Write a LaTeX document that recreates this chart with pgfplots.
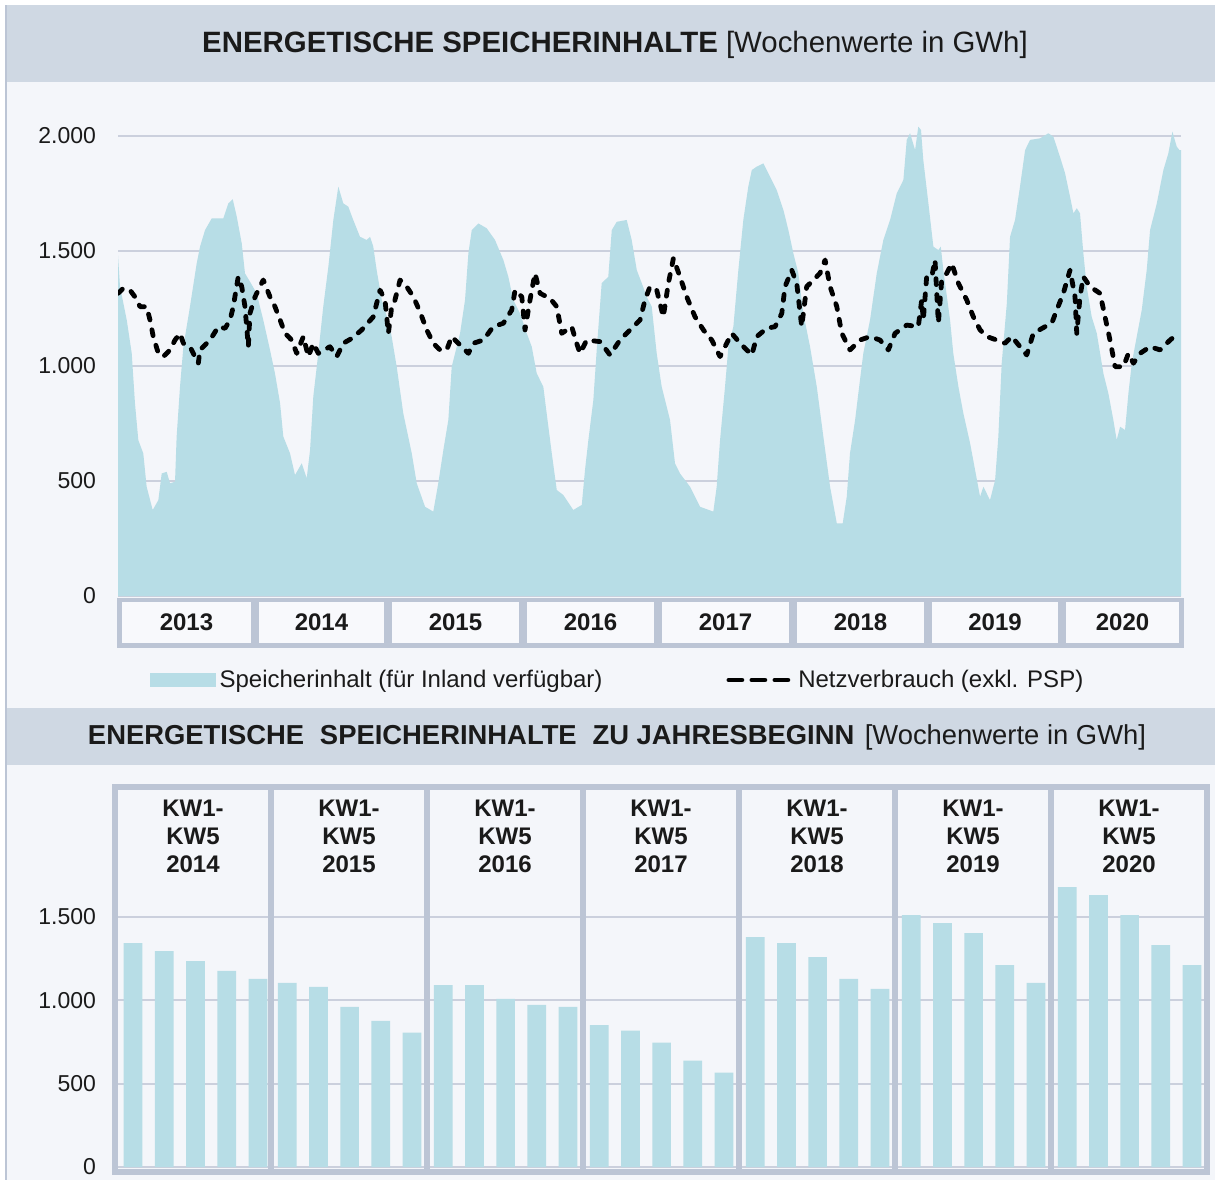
\documentclass[border=0pt]{standalone}
\usepackage{pgfplots}
\pgfplotsset{compat=1.18}
\usepackage{fontspec}
\setmainfont{Liberation Sans}
\definecolor{areablue}{HTML}{B7DDE6}
\definecolor{bgc}{HTML}{F4F6FA}
\definecolor{bandc}{HTML}{CFD8E3}
\definecolor{gridc}{HTML}{CBD0DD}
\definecolor{framec}{HTML}{BCC5D5}
\definecolor{boxin}{HTML}{F8F9FC}
\definecolor{txt}{HTML}{1A1A1A}
\begin{document}
\begin{tikzpicture}[x=0.5pt,y=-0.5pt]
\useasboundingbox (0,0) rectangle (1215,1180);
\fill[white] (0,0) rectangle (1215,1180);
\fill[bgc] (6,5) rectangle (1215,1180);
\fill[bandc] (6,5) rectangle (1215,82);
\fill[bandc] (6,708) rectangle (1215,765);
\draw[framec, line width=0.8pt] (6,5) -- (6,1180);
\node[font=\fontsize{14.7}{16}\selectfont, text=txt] at (615,45) {\textbf{ENERGETISCHE SPEICHERINHALTE} [Wochenwerte in GWh]};
\node[font=\fontsize{13.7}{15}\selectfont, text=txt] at (617,737) {\textbf{ENERGETISCHE\hspace{0.3em} SPEICHERINHALTE\hspace{0.3em} ZU JAHRESBEGINN} \hspace{0.1em}[Wochenwerte in GWh]};

% ---------------- top panel ----------------
\begin{axis}[
  at={(59pt,-298pt)}, anchor=south west,
  scale only axis, width=531.5pt, height=241.5pt,
  xmin=2013, xmax=2020.903, ymin=0, ymax=2100,
  axis line style={draw=none}, xtick=\empty,
  ytick={0,500,1000,1500,2000},
  major tick length=0pt,
  ymajorgrids, grid style={gridc, line width=1pt},
  yticklabel style={font=\fontsize{11.5}{13}\selectfont, text=txt, xshift=-7.5pt},
  /pgf/number format/1000 sep={.},
  /pgf/number format/assume math mode=true,
  legend style={at={(0.4708,-0.1739)}, anchor=center, draw=none, fill=none,
    font=\fontsize{12}{14}\selectfont, text=txt, legend columns=2,
    /tikz/every even column/.append style={column sep=60pt}},
  legend cell align=left,
]
\addplot[fill=areablue, draw=none,
  legend image code/.code={\fill[areablue] (0pt,-3.5pt) rectangle (33pt,3.5pt);}]
coordinates {
(2013.000,1480) (2013.015,1345) (2013.065,1200) (2013.102,1056) (2013.126,839) (2013.151,678)
(2013.188,620) (2013.213,475) (2013.258,374) (2013.300,417) (2013.325,533) (2013.362,540)
(2013.387,490) (2013.424,497) (2013.436,693) (2013.461,910) (2013.486,1084) (2013.535,1258)
(2013.585,1446) (2013.610,1519) (2013.647,1591) (2013.697,1642) (2013.783,1642) (2013.820,1707)
(2013.853,1725) (2013.883,1649) (2013.920,1533) (2013.944,1403) (2013.981,1367) (2014.031,1316)
(2014.080,1200) (2014.130,1070) (2014.167,968) (2014.205,838) (2014.229,693) (2014.279,620)
(2014.316,526) (2014.366,577) (2014.403,512) (2014.428,635) (2014.452,867) (2014.489,1055)
(2014.526,1258) (2014.564,1432) (2014.601,1635) (2014.638,1780) (2014.675,1707) (2014.712,1693)
(2014.749,1635) (2014.799,1562) (2014.849,1548) (2014.874,1562) (2014.898,1519) (2014.923,1417)
(2014.961,1287) (2015.022,1171) (2015.072,997) (2015.121,794) (2015.184,620) (2015.221,490)
(2015.283,388) (2015.344,367) (2015.381,490) (2015.419,635) (2015.456,765) (2015.481,997)
(2015.543,1142) (2015.580,1287) (2015.605,1490) (2015.630,1591) (2015.679,1620) (2015.741,1599)
(2015.803,1548) (2015.865,1461) (2015.902,1388) (2015.939,1287) (2015.989,1229) (2016.039,1142)
(2016.076,1084) (2016.113,968) (2016.162,910) (2016.187,794) (2016.225,620) (2016.262,461)
(2016.311,439) (2016.385,374) (2016.448,396) (2016.472,548) (2016.497,678) (2016.534,852)
(2016.559,1070) (2016.596,1360) (2016.645,1388) (2016.671,1591) (2016.708,1627) (2016.782,1635)
(2016.819,1548) (2016.857,1417) (2016.894,1360) (2016.931,1301) (2016.968,1258) (2017.005,1055)
(2017.042,910) (2017.104,765) (2017.141,577) (2017.178,533) (2017.253,475) (2017.327,388)
(2017.426,367) (2017.451,475) (2017.476,678) (2017.513,910) (2017.538,1084) (2017.575,1171)
(2017.612,1417) (2017.649,1635) (2017.686,1780) (2017.712,1852) (2017.749,1867) (2017.798,1881)
(2017.848,1823) (2017.897,1765) (2017.947,1678) (2017.984,1591) (2018.021,1490) (2018.058,1403)
(2018.095,1229) (2018.145,1084) (2018.195,910) (2018.244,693) (2018.294,475) (2018.344,316)
(2018.388,316) (2018.418,432) (2018.442,620) (2018.480,765) (2018.504,881) (2018.541,1055)
(2018.591,1200) (2018.641,1403) (2018.690,1548) (2018.740,1635) (2018.790,1751) (2018.839,1809)
(2018.864,1983) (2018.889,2012) (2018.926,1939) (2018.950,2041) (2018.970,2026) (2018.987,1896)
(2019.025,1707) (2019.062,1519) (2019.099,1504) (2019.117,1519) (2019.136,1417) (2019.186,1200)
(2019.210,1055) (2019.248,910) (2019.285,794) (2019.335,664) (2019.372,548) (2019.409,432)
(2019.434,475) (2019.483,417) (2019.521,504) (2019.545,693) (2019.570,1012) (2019.608,1272)
(2019.632,1562) (2019.669,1635) (2019.706,1780) (2019.744,1939) (2019.781,1983) (2019.855,1990)
(2019.917,2012) (2019.954,1997) (2020.003,1910) (2020.041,1838) (2020.078,1736) (2020.103,1664)
(2020.128,1686) (2020.152,1664) (2020.177,1490) (2020.202,1345) (2020.239,1214) (2020.277,1142)
(2020.326,968) (2020.363,881) (2020.400,765) (2020.425,678) (2020.450,736) (2020.487,722)
(2020.512,881) (2020.537,1012) (2020.574,1128) (2020.611,1243) (2020.648,1417) (2020.673,1591)
(2020.723,1707) (2020.772,1852) (2020.809,1925) (2020.839,2019) (2020.871,1954) (2020.891,1939)
(2020.903,1939)
} \closedcycle;
\addlegendentry{Speicherinhalt (für Inland verfügbar)}
\addplot[black, line width=2.4pt, line cap=round, line join=round, dash pattern=on 3pt off 5pt,
  legend image code/.code={\draw[black, line width=2.4pt, line cap=round, dash pattern=on 6.5pt off 5pt] (1.5pt,0pt) -- (33pt,0pt);}]
coordinates {
(2013.000,1316) (2013.039,1338) (2013.089,1330) (2013.126,1301) (2013.164,1258) (2013.213,1258)
(2013.238,1200) (2013.262,1128) (2013.300,1055) (2013.337,1041) (2013.387,1070) (2013.424,1113)
(2013.461,1142) (2013.486,1099) (2013.535,1084) (2013.597,1012) (2013.610,1070) (2013.684,1113)
(2013.746,1171) (2013.796,1164) (2013.833,1200) (2013.857,1258) (2013.894,1388) (2013.920,1345)
(2013.944,1258) (2013.969,1084) (2013.981,1229) (2014.019,1301) (2014.043,1330) (2014.080,1374)
(2014.130,1301) (2014.167,1258) (2014.205,1200) (2014.242,1142) (2014.291,1113) (2014.329,1055)
(2014.378,1128) (2014.415,1041) (2014.452,1099) (2014.489,1055) (2014.576,1084) (2014.626,1041)
(2014.675,1099) (2014.738,1120) (2014.812,1157) (2014.898,1214) (2014.948,1330) (2014.985,1287)
(2015.010,1142) (2015.035,1258) (2015.059,1287) (2015.097,1374) (2015.146,1345) (2015.196,1301)
(2015.245,1236) (2015.295,1157) (2015.344,1099) (2015.394,1070) (2015.444,1070) (2015.481,1128)
(2015.530,1099) (2015.605,1055) (2015.642,1099) (2015.716,1113) (2015.790,1171) (2015.865,1186)
(2015.927,1243) (2015.952,1330) (2016.002,1301) (2016.026,1157) (2016.063,1287) (2016.100,1403)
(2016.138,1316) (2016.212,1294) (2016.262,1258) (2016.299,1142) (2016.373,1171) (2016.410,1099)
(2016.435,1055) (2016.485,1113) (2016.584,1106) (2016.658,1048) (2016.732,1113) (2016.807,1157)
(2016.881,1200) (2016.918,1287) (2016.955,1345) (2017.005,1330) (2017.054,1214) (2017.092,1360)
(2017.129,1468) (2017.178,1388) (2017.228,1301) (2017.290,1214) (2017.352,1157) (2017.414,1113)
(2017.476,1041) (2017.526,1099) (2017.563,1142) (2017.625,1099) (2017.712,1048) (2017.749,1128)
(2017.823,1164) (2017.885,1171) (2017.935,1229) (2017.959,1345) (2018.009,1417) (2018.046,1360)
(2018.083,1171) (2018.120,1345) (2018.170,1374) (2018.219,1403) (2018.257,1461) (2018.294,1345)
(2018.344,1258) (2018.381,1142) (2018.442,1070) (2018.517,1113) (2018.591,1128) (2018.665,1113)
(2018.727,1070) (2018.777,1142) (2018.864,1178) (2018.950,1171) (2018.975,1287) (2018.987,1200)
(2019.012,1388) (2019.050,1388) (2019.074,1461) (2019.099,1186) (2019.124,1374) (2019.161,1403)
(2019.198,1446) (2019.248,1360) (2019.310,1287) (2019.359,1214) (2019.409,1157) (2019.459,1128)
(2019.533,1113) (2019.595,1099) (2019.645,1128) (2019.706,1084) (2019.756,1048) (2019.805,1142)
(2019.892,1171) (2019.942,1186) (2019.979,1243) (2020.028,1316) (2020.078,1417) (2020.115,1301)
(2020.128,1142) (2020.152,1301) (2020.177,1388) (2020.227,1345) (2020.301,1316) (2020.338,1214)
(2020.375,1113) (2020.413,997) (2020.475,997) (2020.512,1055) (2020.549,1012) (2020.599,1055)
(2020.673,1084) (2020.747,1070) (2020.822,1113) (2020.883,1142)
};
\addlegendentry{Netzverbrauch (exkl. PSP)}
\end{axis}

% year boxes
\fill[framec] (117,598) rectangle (1184,648);
\foreach \a/\b/\yr in {118/255/2013,255/388/2014,388/523/2015,523/658/2016,658/793/2017,793/928/2018,928/1062/2019,1062/1183/2020}{
  \fill[boxin] (\a+4,602) rectangle (\b-4,643);
  \node[font=\bfseries\fontsize{12}{14}\selectfont, text=txt] at ({(\a+\b)/2},622) {\yr};
}

% ---------------- bottom panel ----------------
\begin{axis}[
  at={(57.5pt,-586pt)}, anchor=south west,
  scale only axis, width=546pt, height=192.5pt,
  xmin=0, xmax=35, ymin=-30, ymax=2280,
  axis line style={draw=framec, line width=3pt}, xtick=\empty,
  ytick={0,500,1000,1500},
  major tick length=0pt,
  ymajorgrids, grid style={gridc, line width=1pt},
  yticklabel style={font=\fontsize{11.5}{13}\selectfont, text=txt, xshift=-6pt},
  /pgf/number format/1000 sep={.},
  /pgf/number format/assume math mode=true,
  clip=false,
]
\addplot[ybar, bar width=0.6, bar shift=0pt, fill=areablue, draw=none] coordinates {
(0.58,1344) (1.58,1296) (2.58,1236) (3.58,1177) (4.58,1129)
(5.52,1105) (6.52,1081) (7.52,961) (8.52,877) (9.52,806)
(10.52,1091) (11.52,1091) (12.52,1009) (13.52,973) (14.52,961)
(15.52,852) (16.52,818) (17.52,746) (18.52,638) (19.52,566)
(20.52,1380) (21.52,1344) (22.52,1260) (23.52,1129) (24.52,1069)
(25.52,1512) (26.52,1464) (27.52,1404) (28.52,1212) (29.52,1105)
(30.52,1679) (31.52,1631) (32.52,1512) (33.52,1332) (34.52,1212)
};
\pgfplotsinvokeforeach{5,10,15,20,25,30}{
  \draw[framec, line width=3pt] (axis cs:#1,-30) -- (axis cs:#1,2280);
}
\pgfplotsinvokeforeach{2014,2015,2016,2017,2018,2019,2020}{
  \node[font=\bfseries\fontsize{12}{14}\selectfont, text=txt, align=center]
    at (axis cs:{(#1-2014)*5+2.5},1986) {KW1-\\KW5\\#1};
}
\end{axis}
\end{tikzpicture}
\end{document}
